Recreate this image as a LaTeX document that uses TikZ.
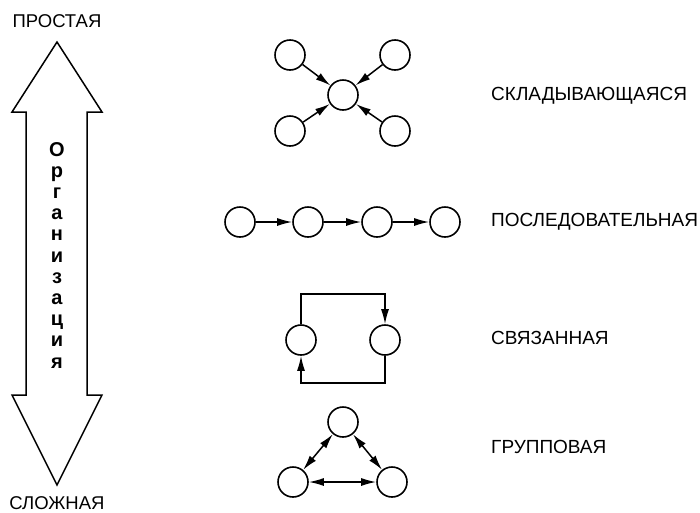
\documentclass[tikz,border=0pt]{standalone}
\usepackage{fontspec}
\setmainfont{Liberation Sans}
\usetikzlibrary{arrows.meta}
\begin{document}
\begin{tikzpicture}[x=1pt,y=-1pt,
  nd/.style={circle,draw,line width=1.6pt,minimum size=30pt,inner sep=0pt},
  conn/.style={line width=1.5pt,-{Latex[length=15pt,width=8pt]}},
  dconn/.style={line width=1.5pt,{Latex[length=15pt,width=8pt]}-{Latex[length=15pt,width=8pt]}},
  lbl/.style={anchor=west,inner sep=0pt,font=\fontsize{19}{22}\selectfont},
  endlbl/.style={inner sep=0pt,font=\fontsize{18.5}{22}\selectfont},
  vl/.style={anchor=base,inner sep=0pt,font=\fontsize{20}{22}\selectfont\bfseries}]
\useasboundingbox (0,0) rectangle (700,512);
% big double arrow
\draw[line width=1.5pt,line join=miter] (57,42) -- (102,112) -- (87,112) -- (87,395) -- (102,395)
  -- (57,485) -- (12,395) -- (26,395) -- (26,112) -- (12,112) -- cycle;
\node[endlbl] (top) at (57,21) {ПРОСТАЯ};
\node[endlbl] (bot) at (57,503) {СЛОЖНАЯ};
\foreach \ch [count=\i from 0] in {О,р,г,а,н,и,з,а,ц,и,я}{
  \node[vl] (v\i) at (57,{156+21.2*\i}) {\ch};
}
% folding
\node[nd] (fc) at (343,95) {};
\node[nd] (f1) at (290,55) {};
\node[nd] (f2) at (395,55) {};
\node[nd] (f3) at (290,131) {};
\node[nd] (f4) at (395,131) {};
\foreach \k in {f1,f2,f3,f4} \draw[conn] (\k) -- (fc);
\node[lbl] (l1) at (491,96) {СКЛАДЫВАЮЩАЯСЯ};
% sequential
\node[nd] (s1) at (240,222) {};
\node[nd] (s2) at (308,222) {};
\node[nd] (s3) at (377,222) {};
\node[nd] (s4) at (445,222) {};
\draw[conn] (s1) -- (s2);
\draw[conn] (s2) -- (s3);
\draw[conn] (s3) -- (s4);
\node[lbl] (l2) at (491,222) {ПОСЛЕДОВАТЕЛЬНАЯ};
% connected
\node[nd] (c1) at (301,340) {};
\node[nd] (c2) at (385,340) {};
\draw[conn] (c1.north) |- (343,294) -| (c2.north);
\draw[conn] (c2.south) |- (343,383) -| (c1.south);
\node[lbl] (l3) at (491,338) {СВЯЗАННАЯ};
% group
\node[nd] (g1) at (343,422) {};
\node[nd] (g2) at (293,482) {};
\node[nd] (g3) at (392,482) {};
\draw[dconn] (g1) -- (g2);
\draw[dconn] (g1) -- (g3);
\draw[dconn] (g2) -- (g3);
\node[lbl] (l4) at (491,447) {ГРУППОВАЯ};
\end{tikzpicture}
\end{document}
